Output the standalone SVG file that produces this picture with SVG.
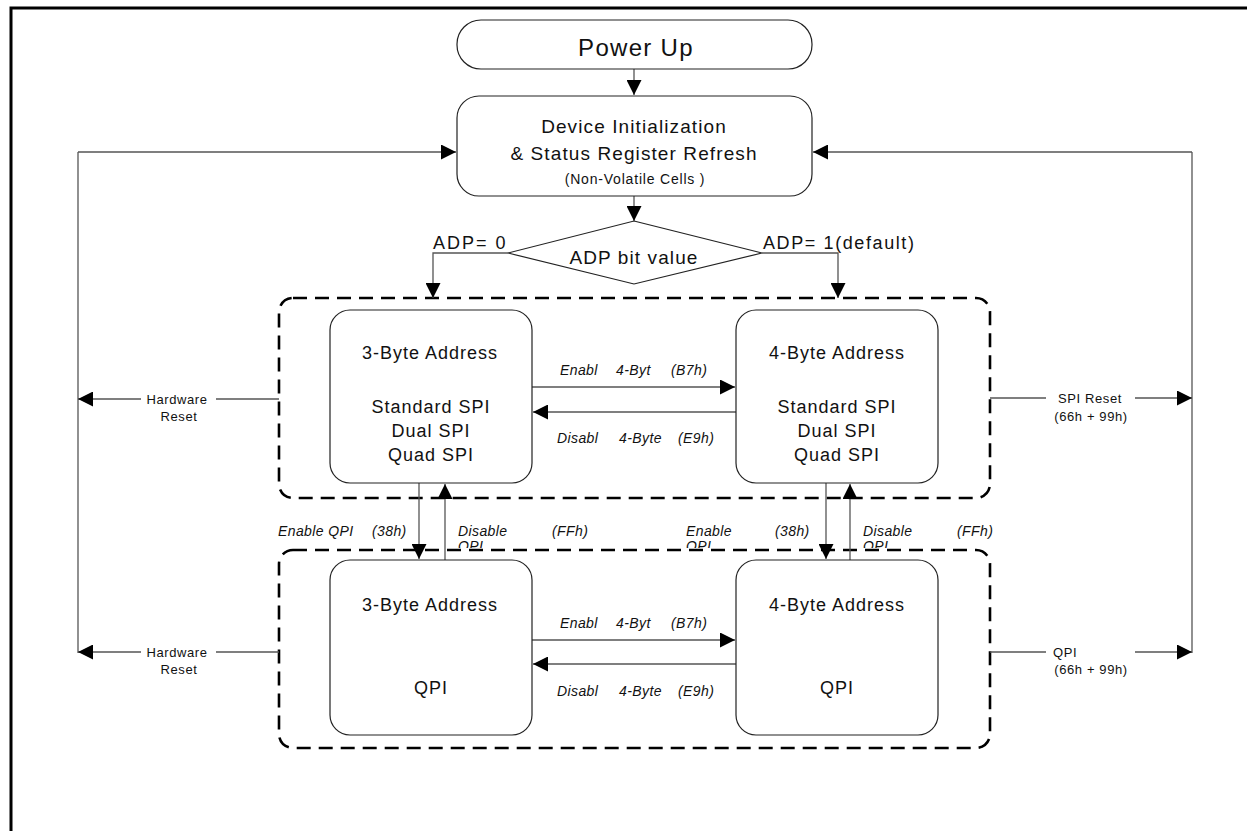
<svg xmlns="http://www.w3.org/2000/svg" width="1247" height="831" viewBox="0 0 1247 831">
<style>
text{font-family:"Liberation Sans",Arial,sans-serif;fill:#111}
.box{fill:#fff;stroke:#222;stroke-width:1.2}
.dash{fill:none;stroke:#000;stroke-width:2.6;stroke-dasharray:14 8}
.ln{fill:none;stroke:#555;stroke-width:1.3}
.lbl{font-size:14px;font-style:italic;letter-spacing:0.4px}
.sm{font-size:13px;letter-spacing:0.6px}
.md{font-size:19px;letter-spacing:1.1px}
.bx{font-size:18px;letter-spacing:1px}
</style>
<defs>
<marker id="ah" viewBox="0 0 10 10" refX="10" refY="5" markerWidth="15" markerHeight="15" markerUnits="userSpaceOnUse" orient="auto">
<path d="M0,0 L10,5 L0,10 z" fill="#000"/>
</marker>
<clipPath id="c1"><rect x="440" y="540" width="560" height="8"/></clipPath>
</defs>
<g id="frame"><path d="M11,831 V8 H1247" fill="none" stroke="#000" stroke-width="3"/></g>

<g id="containers">
<rect class="dash" x="279" y="298" width="711" height="200" rx="14"/>
<rect class="dash" x="279" y="550" width="711" height="198" rx="14"/>
</g>

<g id="connectors">
<line class="ln" x1="634" y1="69" x2="634" y2="95" marker-end="url(#ah)"/>
<line class="ln" x1="634" y1="196" x2="634" y2="221" marker-end="url(#ah)"/>
<polyline class="ln" points="508,253 433,253 433,298" marker-end="url(#ah)"/>
<polyline class="ln" points="762,253 838,253 838,298" marker-end="url(#ah)"/>
<line class="ln" x1="78" y1="152" x2="456" y2="152" marker-end="url(#ah)"/>
<line class="ln" x1="78" y1="152" x2="78" y2="653"/>
<line class="ln" x1="1192" y1="152" x2="813" y2="152" marker-end="url(#ah)"/>
<line class="ln" x1="1192" y1="152" x2="1192" y2="653"/>
<polyline class="ln" points="279,399 216,399"/>
<polyline class="ln" points="141,399 78,399" marker-end="url(#ah)"/>
<polyline class="ln" points="279,652 216,652"/>
<polyline class="ln" points="141,652 78,652" marker-end="url(#ah)"/>
<polyline class="ln" points="990,398 1046,398"/>
<polyline class="ln" points="1135,398 1192,398" marker-end="url(#ah)"/>
<polyline class="ln" points="990,652 1046,652"/>
<polyline class="ln" points="1135,652 1192,652" marker-end="url(#ah)"/>
<line class="ln" x1="532" y1="387" x2="735" y2="387" marker-end="url(#ah)"/>
<line class="ln" x1="736" y1="412" x2="533" y2="412" marker-end="url(#ah)"/>
<line class="ln" x1="532" y1="640" x2="735" y2="640" marker-end="url(#ah)"/>
<line class="ln" x1="736" y1="664" x2="533" y2="664" marker-end="url(#ah)"/>
<line class="ln" x1="419" y1="483" x2="419" y2="559" marker-end="url(#ah)"/>
<line class="ln" x1="445" y1="560" x2="445" y2="484" marker-end="url(#ah)"/>
<line class="ln" x1="826" y1="483" x2="826" y2="559" marker-end="url(#ah)"/>
<line class="ln" x1="850" y1="560" x2="850" y2="484" marker-end="url(#ah)"/>
</g>

<g id="labels">
<text x="433" y="249" font-size="18" letter-spacing="2">ADP= 0</text>
<text x="763" y="249" font-size="18" letter-spacing="1.6">ADP= 1(default)</text>
<text class="lbl" y="375"><tspan x="560">Enabl</tspan><tspan x="616">4-Byt</tspan><tspan x="671">(B7h)</tspan></text>
<text class="lbl" y="443"><tspan x="557">Disabl</tspan><tspan x="619">4-Byte</tspan><tspan x="678">(E9h)</tspan></text>
<text class="lbl" y="628"><tspan x="560">Enabl</tspan><tspan x="616">4-Byt</tspan><tspan x="671">(B7h)</tspan></text>
<text class="lbl" y="696"><tspan x="557">Disabl</tspan><tspan x="619">4-Byte</tspan><tspan x="678">(E9h)</tspan></text>
<text class="lbl" y="536"><tspan x="278">Enable QPI</tspan><tspan x="372">(38h)</tspan></text>
<text class="lbl" x="458" y="536">Disable</text>
<text class="lbl" x="552" y="536">(FFh)</text>
<text class="lbl" x="458" y="551" clip-path="url(#c1)">QPI</text>
<text class="lbl" x="686" y="536">Enable</text>
<text class="lbl" x="775" y="536">(38h)</text>
<text class="lbl" x="686" y="551" clip-path="url(#c1)">QPI</text>
<text class="lbl" x="863" y="536">Disable</text>
<text class="lbl" x="957" y="536">(FFh)</text>
<text class="lbl" x="863" y="551" clip-path="url(#c1)">QPI</text>
<text class="sm" x="177" y="404" text-anchor="middle">Hardware</text>
<text class="sm" x="179" y="421" text-anchor="middle">Reset</text>
<text class="sm" x="177" y="657" text-anchor="middle">Hardware</text>
<text class="sm" x="179" y="674" text-anchor="middle">Reset</text>
<text class="sm" x="1090" y="403" text-anchor="middle">SPI Reset</text>
<text class="sm" x="1091" y="421" text-anchor="middle">(66h + 99h)</text>
<text class="sm" x="1053" y="657">QPI</text>
<text class="sm" x="1091" y="674" text-anchor="middle">(66h + 99h)</text>
</g>

<g id="power-up">
<rect class="box" x="457" y="20" width="355" height="49" rx="24"/>
<text x="636" y="56" font-size="24" letter-spacing="1.3" text-anchor="middle">Power Up</text>
</g>
<g id="device-init">
<rect class="box" x="457" y="96" width="355" height="100" rx="22"/>
<text class="md" x="634" y="133" text-anchor="middle">Device Initialization</text>
<text class="md" x="634" y="160" text-anchor="middle">&amp; Status Register Refresh</text>
<text x="635" y="184" font-size="14" letter-spacing="0.8" text-anchor="middle">(Non-Volatile Cells )</text>
</g>
<g id="adp-decision">
<polygon class="box" points="634,221 762,253 634,284 508,253"/>
<text class="md" x="634" y="264" text-anchor="middle">ADP bit value</text>
</g>
<g id="spi-3byte">
<rect class="box" x="330" y="310" width="202" height="173" rx="20"/>
<text class="bx" x="430" y="359" text-anchor="middle">3-Byte Address</text>
<text class="bx" x="431" y="413" text-anchor="middle">Standard SPI</text>
<text class="bx" x="431" y="437" text-anchor="middle">Dual SPI</text>
<text class="bx" x="431" y="461" text-anchor="middle">Quad SPI</text>
</g>
<g id="spi-4byte">
<rect class="box" x="736" y="310" width="202" height="173" rx="20"/>
<text class="bx" x="837" y="359" text-anchor="middle">4-Byte Address</text>
<text class="bx" x="837" y="413" text-anchor="middle">Standard SPI</text>
<text class="bx" x="837" y="437" text-anchor="middle">Dual SPI</text>
<text class="bx" x="837" y="461" text-anchor="middle">Quad SPI</text>
</g>
<g id="qpi-3byte">
<rect class="box" x="330" y="560" width="202" height="175" rx="20"/>
<text class="bx" x="430" y="611" text-anchor="middle">3-Byte Address</text>
<text class="bx" x="431" y="694" text-anchor="middle">QPI</text>
</g>
<g id="qpi-4byte">
<rect class="box" x="736" y="560" width="202" height="175" rx="20"/>
<text class="bx" x="837" y="611" text-anchor="middle">4-Byte Address</text>
<text class="bx" x="837" y="694" text-anchor="middle">QPI</text>
</g>
</svg>
